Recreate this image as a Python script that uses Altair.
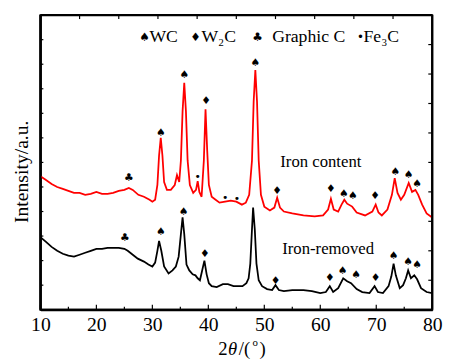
import altair as alt
import pandas as pd

# ---- data (intensity in a.u.) ----
red_x = [10, 11, 12, 13, 14, 15, 16, 17, 18, 19, 20, 21, 22, 23, 24, 25, 25.8, 26.5, 27.5, 28.5,
         29.5, 30.0, 30.5, 30.9, 31.2, 31.5, 31.8, 32.1, 32.6, 33.3, 34.0, 34.4, 34.8, 35.1, 35.4,
         35.7, 36.0, 36.3, 36.7, 37.3, 37.8, 38.1, 38.4, 38.8, 39.2, 39.5, 39.8, 40.1, 40.6, 41.3,
         42, 43, 44, 45, 46, 46.7, 47.3, 47.8, 48.1, 48.4, 48.7, 49.0, 49.4, 50, 51, 51.8, 52.3,
         52.8, 53.5, 55, 57, 59, 60.5, 61.4, 61.9, 62.4, 63.2, 63.8, 64.3, 64.8, 65.7, 66.5, 68,
         69.3, 69.9, 70.4, 71, 72, 72.8, 73.3, 73.8, 74.4, 75.0, 75.8, 76.4, 77.0, 77.5, 78.2, 79, 80]
red_y = [136, 132, 128, 125, 123, 121, 119, 119, 117, 118, 120, 118, 118, 119, 121, 122, 124, 122,
         117, 115, 112, 110, 112, 127, 157, 175, 157, 130, 122, 122, 127, 137, 130, 152, 202, 231,
         202, 152, 127, 119, 122, 131, 120, 115, 152, 204, 162, 127, 115, 112, 109, 110, 111, 110,
         107, 109, 117, 152, 212, 244, 212, 152, 117, 105, 101, 104, 114, 104, 100, 98, 96, 95, 96,
         102, 113, 102, 100, 107, 112, 108, 105, 99, 96, 100, 107, 99, 96, 102, 117, 134, 119, 112,
         117, 129, 120, 122, 117, 107, 98, 94]

black_x = [10, 11, 12, 13, 14, 15, 16, 17, 18, 19, 20, 21, 22, 23, 24, 25, 25.6, 26.5, 27.4, 28.5,
           29.3, 30.0, 30.5, 30.9, 31.2, 31.6, 32.1, 32.9, 33.6, 34.2, 34.7, 35.1, 35.4, 35.7, 36.1,
           36.6, 37.2, 37.7, 38.1, 38.5, 38.9, 39.3, 39.7, 40.1, 40.6, 41.5, 42.6, 43.5, 44.5, 46.1,
           46.8, 47.2, 47.5, 47.8, 48.0, 48.3, 48.6, 49.0, 49.6, 50.5, 51.4, 52.0, 52.6, 53.5, 55,
           57, 58.5, 60, 61.0, 61.7, 62.3, 63.2, 64.1, 64.8, 65.5, 66.5, 67.5, 68.8, 69.7, 70.3,
           71.2, 72.2, 72.7, 73.1, 73.5, 74.2, 74.8, 75.3, 75.7, 76.2, 76.8, 77.3, 78, 79, 80]
black_y = [74, 69, 64, 60, 57, 55, 54, 56, 58, 60, 62, 62, 63, 63, 63, 62, 60, 56, 52, 49, 46, 44,
           48, 60, 70, 60, 44, 37, 40, 44, 54, 77, 94, 77, 46, 40, 36, 35, 32, 30, 40, 50, 36, 27,
           24, 23, 26, 26, 24, 24, 27, 32, 47, 82, 104, 82, 47, 30, 24, 21, 20, 25, 20, 19, 20, 20,
           19, 17, 18, 24, 18, 22, 32, 29, 27, 21, 18, 17, 24, 18, 17, 24, 34, 47, 35, 22, 25, 32,
           40, 32, 35, 31, 22, 18, 17]

# phase markers: WC (spade), W2C (diamond), graphite (club), Fe3C (dot)
mark_x = [25.8, 31.5, 35.7, 38.1, 39.6, 43.0, 45.1, 48.4, 52.3, 61.9, 64.2, 65.8, 69.8, 73.4, 75.8, 77.3,
          25.1, 31.5, 35.6, 39.4, 52.0, 61.7, 64.0, 66.4, 69.9, 73.1, 75.7, 77.3]
mark_y = [134, 180, 239, 135, 212, 114, 113, 251, 121, 123, 118, 116, 116, 140, 137, 128,
          73, 79, 99, 57, 29, 32, 39, 35, 32, 55, 49, 45]
mark_sym = ["♣", "♠", "♠", "•", "♦", "•", "•", "♠", "♦", "♦", "♠", "♠", "♦", "♠", "♠", "♠",
            "♣", "♠", "♠", "♦", "♦", "♦", "♠", "♠", "♦", "♠", "♠", "♠"]

curve_labels = ["Iron content", "Iron-removed"]
curve_label_x = [60.1, 61.4]
curve_label_y = [150, 62]

legend_symbols = ["♠", "♦", "♣", "•"]
legend_texts = ["WC", "W₂C", "Graphic C", "Fe₃C"]

x_major = [10, 20, 30, 40, 50, 60, 70, 80]
x_minor = [15, 25, 35, 45, 55, 65, 75]
x_top_ticks = [17, 24, 31, 38, 45, 52, 59, 66, 73]
y_left_ticks = [25, 50, 75, 100, 125, 150, 175, 200, 225, 250, 275]
y_right_ticks = [30, 60, 90, 120, 150, 180, 210, 240, 270]
x_lo, x_hi = 10, 80
y_lo, y_hi = 0, 300

SERIF = "Liberation Serif, Times New Roman, serif"
W, H = 399, 300
xs = alt.Scale(domain=[x_lo, x_hi], nice=False, zero=False)
ys = alt.Scale(domain=[y_lo, y_hi], nice=False, zero=False)

red = pd.DataFrame({"x": red_x, "y": red_y})
black = pd.DataFrame({"x": black_x, "y": black_y})
marks = pd.DataFrame({"x": mark_x, "y": mark_y, "s": mark_sym})
labels = pd.DataFrame({"x": curve_label_x, "y": curve_label_y, "t": curve_labels})
frame_df = pd.DataFrame({
    "x": [x_lo, x_hi, x_lo, x_lo], "x2": [x_lo, x_hi, x_hi, x_hi],
    "y": [y_lo, y_lo, y_lo, y_hi], "y2": [y_hi, y_hi, y_lo, y_hi],
})

XQ = alt.X("x:Q", scale=xs)
YQ = alt.Y("y:Q", scale=ys)

base_red = alt.Chart(red).mark_line(color="#ff0000", strokeWidth=1.8).encode(
    x=alt.X("x:Q", scale=xs,
            axis=alt.Axis(values=x_major, ticks=False, domain=True, domainColor="#000000",
                          domainWidth=2, grid=False, title=None,
                          labelFont=SERIF, labelFontSize=20, labelColor="black", labelPadding=5,
                          format="d", labelFlush=False)),
    y=alt.Y("y:Q", scale=ys,
            axis=alt.Axis(labels=False, ticks=False, domain=True, domainColor="#000000",
                          domainWidth=2, grid=False,
                          title="Intensity/a.u.", titleFont=SERIF, titleFontSize=20,
                          titleFontWeight="normal", titleColor="black",
                          titleX=-9, titleY=159, titleBaseline="bottom", titleAlign="center")),
)

line_black = alt.Chart(black).mark_line(color="black", strokeWidth=1.8).encode(x=XQ, y=YQ)

frame = alt.Chart(frame_df).mark_rule(color="#000000", strokeWidth=2.2, opacity=1).encode(
    x=XQ, x2="x2:Q", y=YQ, y2="y2:Q")

sym = alt.Chart(marks).mark_text(font="DejaVu Sans", fontSize=11, color="black", baseline="middle").encode(
    x=XQ, y=YQ, text="s:N")

lab = alt.Chart(labels).mark_text(font=SERIF, fontSize=17, color="black", baseline="middle").encode(
    x=XQ, y=YQ, text="t:N")

def vticks(vals, y0, y1):
    return alt.Chart(pd.DataFrame({"x": vals})).mark_rule(color="black", strokeWidth=1.2).encode(
        x=XQ, y=alt.value(y0), y2=alt.value(y1))

def hticks(vals, x0, x1):
    return alt.Chart(pd.DataFrame({"y": vals})).mark_rule(color="black", strokeWidth=1.2).encode(
        y=YQ, x=alt.value(x0), x2=alt.value(x1))

ticks = [vticks(x_major, H, H - 5), vticks(x_minor, H, H - 3), vticks(x_top_ticks, 0, 4),
         hticks(y_left_ticks, 0, 3), hticks(y_right_ticks, W, W - 4)]

# legend row at top
leg_sym_x = [106, 158, 221, 326]
leg_txt_x = [111, 164, 236, 329]
legend_layers = []
for s, t, sx, tx in zip(legend_symbols, legend_texts, leg_sym_x, leg_txt_x):
    legend_layers.append(alt.Chart(pd.DataFrame({"t": [s]})).mark_text(
        font="DejaVu Sans", fontSize=12, color="black", baseline="middle", align="center").encode(
        x=alt.value(sx), y=alt.value(22), text="t:N"))
    legend_layers.append(alt.Chart(pd.DataFrame({"t": [t]})).mark_text(
        font=SERIF, fontSize=18, color="black", baseline="middle", align="left").encode(
        x=alt.value(tx), y=alt.value(22), text="t:N"))

# x axis title: 2θ/(°) with italic theta and raised o
title_parts = [("2", 181, 346, 19, "normal"), ("θ", 191, 346, 19, "italic"),
               ("/(", 202, 346, 19, "normal"), ("o", 216, 337, 11, "normal"),
               (")", 223, 346, 19, "normal")]
title_layers = []
for t, px, py, fs, st in title_parts:
    title_layers.append(alt.Chart(pd.DataFrame({"t": [t]})).mark_text(
        font=SERIF, fontSize=fs, fontStyle=st, color="black", baseline="alphabetic", align="left").encode(
        x=alt.value(px), y=alt.value(py), text="t:N"))

chart = alt.layer(base_red, line_black, sym, lab, *ticks, *legend_layers, *title_layers, frame).properties(
    width=W, height=H,
    autosize=alt.AutoSizeParams(type="none"),
    padding={"left": 33, "top": 4, "right": 12, "bottom": 50},
    background="white",
).configure_view(stroke="#000000", strokeWidth=2)

chart.save("out.html", embed_options={"renderer": "svg", "actions": False})
